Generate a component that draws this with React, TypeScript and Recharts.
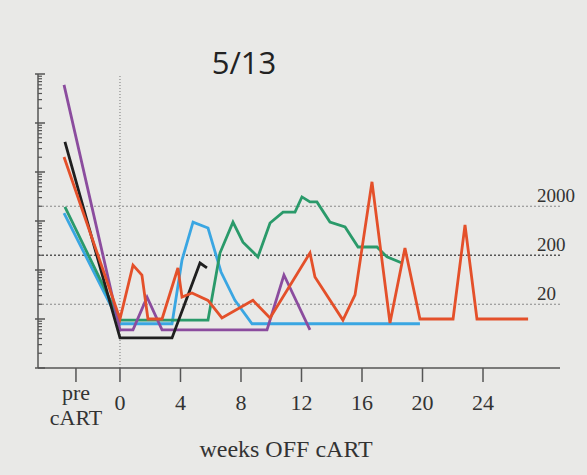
import { LineChart, Line, XAxis, YAxis, ReferenceLine } from "recharts"

// weeks off cART (pre-cART point sits left of week 0) and viral load (copies/ml)
const purple = [
  { w: -3.7, v: 600000 },
  { w: 0, v: 6 },
  { w: 0.86, v: 6 },
  { w: 1.79, v: 28 },
  { w: 2.78, v: 6 },
  { w: 9.72, v: 6 },
  { w: 10.84, v: 79 },
  { w: 12.56, v: 6 },
]

const black = [
  { w: -3.64, v: 41000 },
  { w: 0, v: 4.1 },
  { w: 3.44, v: 4.1 },
  { w: 5.29, v: 139 },
  { w: 5.75, v: 110 },
]

const red = [
  { w: -3.7, v: 20300 },
  { w: 0, v: 10 },
  { w: 0.86, v: 126 },
  { w: 1.45, v: 79 },
  { w: 1.65, v: 28 },
  { w: 1.85, v: 10 },
  { w: 2.78, v: 10 },
  { w: 3.83, v: 110 },
  { w: 4.1, v: 28 },
  { w: 4.76, v: 34 },
  { w: 5.82, v: 24 },
  { w: 6.74, v: 10.5 },
  { w: 8.79, v: 24 },
  { w: 9.92, v: 10.5 },
  { w: 12.56, v: 223 },
  { w: 12.89, v: 72 },
  { w: 14.74, v: 9.5 },
  { w: 15.54, v: 31 },
  { w: 16.66, v: 6300 },
  { w: 17.85, v: 8.3 },
  { w: 18.84, v: 280 },
  { w: 19.83, v: 10 },
  { w: 22.02, v: 10 },
  { w: 22.81, v: 830 },
  { w: 23.6, v: 10 },
  { w: 26.98, v: 10 },
]

const green = [
  { w: -3.64, v: 1940 },
  { w: 0, v: 9.5 },
  { w: 5.82, v: 9.5 },
  { w: 6.61, v: 222 },
  { w: 7.47, v: 950 },
  { w: 8.13, v: 370 },
  { w: 9.12, v: 185 },
  { w: 9.92, v: 910 },
  { w: 10.78, v: 1520 },
  { w: 11.57, v: 1520 },
  { w: 12.03, v: 3100 },
  { w: 12.56, v: 2450 },
  { w: 13.02, v: 2450 },
  { w: 13.88, v: 950 },
  { w: 14.88, v: 755 },
  { w: 15.74, v: 295 },
  { w: 16.99, v: 295 },
  { w: 17.65, v: 185 },
  { w: 18.64, v: 139 },
]

const cyan = [
  { w: -3.7, v: 1450 },
  { w: 0, v: 8 },
  { w: 3.44, v: 8 },
  { w: 4.1, v: 160 },
  { w: 4.83, v: 950 },
  { w: 5.82, v: 720 },
  { w: 6.68, v: 91 },
  { w: 7.6, v: 24 },
  { w: 8.73, v: 8 },
  { w: 19.83, v: 8 },
]

const xTicks = [-2.91, 0, 4, 8, 12, 16, 20, 24]
const thresholds = [2000, 200, 20]

const yTicks: number[] = []
for (let d = 1; d < 1e6; d *= 10) {
  for (let m = 1; m < 10; m++) yTicks.push(d * m)
}
yTicks.push(1e6)

const serif = "'Liberation Serif', 'Times New Roman', serif"

function XTick(props: any) {
  const { x, y, payload } = props
  if (payload.value < -1) {
    return (
      <g>
        <text x={x} y={y + 18} textAnchor="middle" fontSize={22} fontFamily={serif} fill="#333">pre</text>
        <text x={x} y={y + 43} textAnchor="middle" fontSize={22} fontFamily={serif} fill="#333">cART</text>
      </g>
    )
  }
  return (
    <text x={x} y={y + 28} textAnchor="middle" fontSize={22} fontFamily={serif} fill="#333">
      {payload.value}
    </text>
  )
}

function YTick(props: any) {
  const { x, y, payload } = props
  const major = Math.abs(Math.log10(payload.value) % 1) < 1e-6
  return (
    <line
      x1={major ? x - 3 : x}
      x2={major ? x + 7 : x + 4}
      y1={y}
      y2={y}
      stroke="#555"
      strokeWidth={major ? 1.5 : 1.2}
    />
  )
}

function thresholdLabel(value: number) {
  return (props: any) => {
    const vb = props.viewBox
    return (
      <text x={vb.x + vb.width - 23} y={vb.y - 4} fontSize={19} fontFamily={serif} fill="#333">
        {value}
      </text>
    )
  }
}

export default function App() {
  return (
    <div style={{ position: "absolute", left: 0, top: 0, width: 587, height: 475, background: "#e9e9e7" }}>
      <LineChart width={587} height={475} data={red} margin={{ top: 74, right: 27, left: 28, bottom: 67 }}>
        <XAxis
          type="number"
          dataKey="w"
          domain={[-5.42, 29.09]}
          allowDataOverflow
          ticks={xTicks}
          interval={0}
          tick={<XTick />}
          tickSize={14}
          tickMargin={0}
          height={40}
          stroke="#555"
          strokeWidth={1.5}
        />
        <YAxis
          scale="log"
          domain={[1, 1e6]}
          allowDataOverflow
          ticks={yTicks}
          interval={0}
          tick={<YTick />}
          tickLine={false}
          tickSize={0}
          tickMargin={0}
          width={10}
          stroke="#555"
          strokeWidth={1.5}
        />
        {thresholds.map((t) => (
          <ReferenceLine
            key={t}
            y={t}
            stroke={t === 200 ? "#555" : "#888"}
            strokeWidth={t === 200 ? 1.5 : 1}
            strokeDasharray="2 2"
            label={thresholdLabel(t)}
          />
        ))}
        <ReferenceLine x={0} stroke="#777" strokeDasharray="1 2" />
        <Line data={cyan} dataKey="v" stroke="#3aa6e2" strokeWidth={2.8} dot={false} isAnimationActive={false} />
        <Line data={green} dataKey="v" stroke="#2a9a6a" strokeWidth={2.8} dot={false} isAnimationActive={false} />
        <Line data={purple} dataKey="v" stroke="#8b4c9e" strokeWidth={2.8} dot={false} isAnimationActive={false} />
        <Line data={black} dataKey="v" stroke="#1f1f1f" strokeWidth={2.8} dot={false} isAnimationActive={false} />
        <Line data={red} dataKey="v" stroke="#e4502a" strokeWidth={2.8} dot={false} isAnimationActive={false} />
      </LineChart>
      <svg width={587} height={475} style={{ position: "absolute", left: 0, top: 0, pointerEvents: "none" }}>
        <text x={244} y={74} textAnchor="middle" fontSize={31} fontFamily="'Open Sans', sans-serif" fill="#222">
          5/13
        </text>
        <text x={286} y={457} textAnchor="middle" fontSize={24} fontFamily={serif} fill="#333">
          weeks OFF cART
        </text>
      </svg>
    </div>
  )
}
